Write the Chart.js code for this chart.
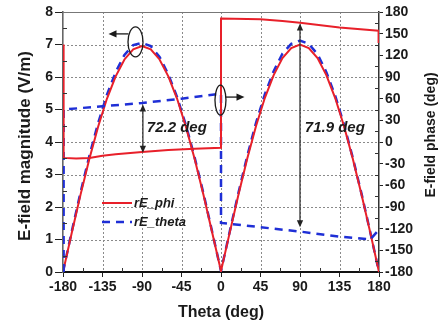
<!DOCTYPE html>
<html><head><meta charset="utf-8">
<script src="https://cdn.jsdelivr.net/npm/chart.js@4/dist/chart.umd.min.js"></script>
<style>html,body{margin:0;padding:0;background:#fff;}#wrap{width:438px;height:327px;}</style>
</head><body><div id="wrap"><canvas id="c" width="438" height="327"></canvas></div>
<script>
// ---- data ----
const thetaMag = [-180,-170,-160,-150,-140,-130,-120,-110,-100,-90,-80,-70,-60,-50,-40,-30,-20,-10,0,10,20,30,40,50,60,70,80,90,100,110,120,130,140,150,160,170,180];
const magPhi   = [0,1.21,2.38,3.48,4.47,5.33,6.02,6.54,6.85,6.95,6.85,6.54,6.02,5.33,4.47,3.48,2.38,1.21,0.03,1.22,2.39,3.5,4.5,5.36,6.06,6.58,6.89,7.0,6.89,6.58,6.06,5.36,4.5,3.5,2.39,1.22,0];
const magTheta = [0,1.25,2.45,3.57,4.58,5.45,6.15,6.68,6.98,7.05,6.95,6.62,6.08,5.38,4.52,3.52,2.42,1.23,0.03,1.25,2.45,3.58,4.6,5.47,6.18,6.72,7.02,7.12,7.02,6.7,6.15,5.43,4.55,3.53,2.42,1.23,0];
const thetaPhasePhi = [-179.3,-179.3,-165,-150,-135,-120,-90,-60,-30,0,0,45,70,90,135,179.5,179.5];
const phasePhi      = [135,-22,-23,-22,-19,-17,-14,-11,-9.5,-8,171,170,167.5,165,158.5,154,137];
const thetaPhaseTheta = [-179.3,-179.3,-135,-90,-45,0,0,45,90,135,170,179.5];
const phaseTheta      = [-180,45,49.5,54,60,67,-112,-118,-124,-131,-135,-122];
const xTicks = [-180,-135,-90,-45,0,45,90,135,180];
const seriesNames = ['rE_phi','rE_theta'];
const labels = {x:'Theta (deg)', y:'E-field magnitude (V/m)', y2:'E-field phase (deg)', d1:'72.2 deg', d2:'71.9 deg'};

const RED = '#e8202a', BLUE = '#1f2fd6', INK = '#1a1a1a';
const FONT = '"Liberation Sans", Arial, sans-serif';
const pts = (xs, ys) => xs.map((x,i)=>({x, y:ys[i]}));

function arrowHead(ctx, x, y, dir, size){
  ctx.beginPath();
  const s=size, w=size*0.45;
  if(dir==='up'){ctx.moveTo(x,y);ctx.lineTo(x-w,y+s);ctx.lineTo(x+w,y+s);}
  if(dir==='down'){ctx.moveTo(x,y);ctx.lineTo(x-w,y-s);ctx.lineTo(x+w,y-s);}
  if(dir==='left'){ctx.moveTo(x,y);ctx.lineTo(x+s,y-w);ctx.lineTo(x+s,y+w);}
  if(dir==='right'){ctx.moveTo(x,y);ctx.lineTo(x-s,y-w);ctx.lineTo(x-s,y+w);}
  ctx.closePath();ctx.fill();
}

const decor = {
  id:'decor',
  beforeDatasetsDraw(chart){
    const {ctx, chartArea:a, scales:{x, y}} = chart;
    ctx.save();
    ctx.strokeStyle='#8a8a8a'; ctx.lineWidth=1; ctx.setLineDash([2,2]);
    xTicks.slice(1,-1).forEach(t=>{const px=Math.round(x.getPixelForValue(t))+0.5;ctx.beginPath();ctx.moveTo(px,a.top);ctx.lineTo(px,a.bottom);ctx.stroke();});
    for(let v=1;v<8;v++){const py=Math.round(y.getPixelForValue(v))+0.5;ctx.beginPath();ctx.moveTo(a.left,py);ctx.lineTo(a.right,py);ctx.stroke();}
    ctx.restore();
  },
  afterDraw(chart){
    const {ctx, chartArea:a, scales:{x, y, y2}} = chart;
    ctx.save();
    ctx.strokeStyle='#777'; ctx.lineWidth=1.2;
    ctx.beginPath(); ctx.moveTo(a.left, a.top+0.5); ctx.lineTo(a.right, a.top+0.5); ctx.stroke();
    ctx.strokeStyle='#333'; ctx.lineWidth=1;
    for(let t=-157.5;t<180;t+=45){const px=Math.round(x.getPixelForValue(t))+0.5;ctx.beginPath();ctx.moveTo(px,a.bottom);ctx.lineTo(px,a.bottom-4);ctx.stroke();}
    for(let v=0.5;v<8;v+=1){const py=Math.round(y.getPixelForValue(v))+0.5;ctx.beginPath();ctx.moveTo(a.left,py);ctx.lineTo(a.left+4,py);ctx.stroke();}
    for(let v=-165;v<180;v+=30){const py=Math.round(y2.getPixelForValue(v))+0.5;ctx.beginPath();ctx.moveTo(a.right,py);ctx.lineTo(a.right-4,py);ctx.stroke();}

    ctx.fillStyle=INK; ctx.textAlign='center'; ctx.textBaseline='middle';
    ctx.font='bold 16px '+FONT;
    ctx.fillText(labels.x, (a.left+a.right)/2, 313);
    ctx.save(); ctx.translate(25,(a.top+a.bottom)/2+4); ctx.rotate(-Math.PI/2);
    ctx.font='bold 17px '+FONT; ctx.fillText(labels.y,0,0); ctx.restore();
    ctx.save(); ctx.translate(431,135); ctx.rotate(-Math.PI/2);
    ctx.font='bold 14px '+FONT; ctx.fillText(labels.y2,0,0); ctx.restore();

    ctx.lineWidth=2;
    ctx.strokeStyle=RED; ctx.setLineDash([]);
    ctx.beginPath(); ctx.moveTo(102,203); ctx.lineTo(132,203); ctx.stroke();
    ctx.strokeStyle=BLUE; ctx.lineWidth=2.5; ctx.setLineDash([8,6]);
    ctx.beginPath(); ctx.moveTo(102,222); ctx.lineTo(132,222); ctx.stroke();
    ctx.setLineDash([]);
    ctx.font='italic bold 13px '+FONT; ctx.textAlign='left'; ctx.fillStyle=INK;
    ctx.fillText(seriesNames[0],134,203); ctx.fillText(seriesNames[1],134,222);

    ctx.strokeStyle=INK; ctx.fillStyle=INK; ctx.lineWidth=1.3;
    const e1x=x.getPixelForValue(-97.4), e1y=y.getPixelForValue(7.08);
    ctx.beginPath(); ctx.ellipse(e1x,e1y,7.5,15,0,0,Math.PI*2); ctx.stroke();
    ctx.beginPath(); ctx.moveTo(e1x-7,e1y-8); ctx.lineTo(e1x-20,e1y-8); ctx.stroke();
    arrowHead(ctx,e1x-27,e1y-8,'left',8);
    const e2x=x.getPixelForValue(-0.6), e2y=y.getPixelForValue(5.29);
    ctx.beginPath(); ctx.ellipse(e2x,e2y,5.5,15,0,0,Math.PI*2); ctx.stroke();
    ctx.beginPath(); ctx.moveTo(e2x+5,e2y-3); ctx.lineTo(e2x+17,e2y-3); ctx.stroke();
    arrowHead(ctx,e2x+24,e2y-3,'right',8);

    ctx.strokeStyle='#333'; ctx.fillStyle='#222'; ctx.lineWidth=1.3;
    const a1x=x.getPixelForValue(-89), a1t=y2.getPixelForValue(52), a1b=y2.getPixelForValue(-15);
    ctx.beginPath(); ctx.moveTo(a1x,a1t+5); ctx.lineTo(a1x,a1b-5); ctx.stroke();
    arrowHead(ctx,a1x,a1t,'up',7); arrowHead(ctx,a1x,a1b,'down',7);
    const a2x=x.getPixelForValue(90), a2t=y2.getPixelForValue(164), a2b=y2.getPixelForValue(-118);
    ctx.beginPath(); ctx.moveTo(a2x,a2t+5); ctx.lineTo(a2x,a2b-5); ctx.stroke();
    arrowHead(ctx,a2x,a2t,'up',7); arrowHead(ctx,a2x,a2b,'down',7);

    ctx.font='italic bold 15px '+FONT; ctx.textAlign='left'; ctx.textBaseline='middle'; ctx.fillStyle=INK;
    ctx.fillText(labels.d1, x.getPixelForValue(-84.5), y2.getPixelForValue(19));
    ctx.fillText(labels.d2, x.getPixelForValue(95.5), y2.getPixelForValue(20));
    ctx.restore();
  }
};

new Chart(document.getElementById('c'), {
  type:'line',
  data:{datasets:[
    {label:seriesNames[0]+' phase', data:pts(thetaPhasePhi,phasePhi), yAxisID:'y2', borderColor:RED, borderWidth:2, pointRadius:0, fill:false},
    {label:seriesNames[1]+' phase', data:pts(thetaPhaseTheta,phaseTheta), yAxisID:'y2', borderColor:BLUE, borderWidth:2.5, borderDash:[8,6], pointRadius:0, fill:false},
    {label:seriesNames[0], data:pts(thetaMag,magPhi), yAxisID:'y', borderColor:RED, borderWidth:2, pointRadius:0, fill:false},
    {label:seriesNames[1], data:pts(thetaMag,magTheta), yAxisID:'y', borderColor:BLUE, borderWidth:2.5, borderDash:[8,6], pointRadius:0, fill:false}
  ]},
  options:{
    responsive:false, animation:false, devicePixelRatio:1,
    layout:{padding:{top:12,left:0,right:0,bottom:0}},
    plugins:{legend:{display:false}, tooltip:{enabled:false}},
    scales:{
      x:{type:'linear', min:-180, max:180,
        afterBuildTicks(s){s.ticks = xTicks.map(v=>({value:v}));},
        afterFit(s){s.height=55;},
        ticks:{font:{family:FONT,size:14,weight:'bold'}, color:INK, padding:2, maxRotation:0, autoSkip:false},
        grid:{drawOnChartArea:false, tickColor:'#222', tickLength:5},
        border:{color:'#111', width:2}},
      y:{position:'left', min:0, max:8,
        afterFit(s){s.width=63;},
        ticks:{stepSize:1, font:{family:FONT,size:14,weight:'bold'}, color:INK, padding:2},
        grid:{drawOnChartArea:false, tickColor:'#222', tickLength:8},
        border:{color:'#666', width:1.6}},
      y2:{position:'right', min:-180, max:180,
        afterFit(s){s.width=59;},
        ticks:{stepSize:30, font:{family:FONT,size:14,weight:'bold'}, color:INK, padding:2},
        grid:{drawOnChartArea:false, tickColor:'#222', tickLength:4},
        border:{color:'#333', width:1.5}}
    }
  },
  plugins:[decor]
});
</script></body></html>
